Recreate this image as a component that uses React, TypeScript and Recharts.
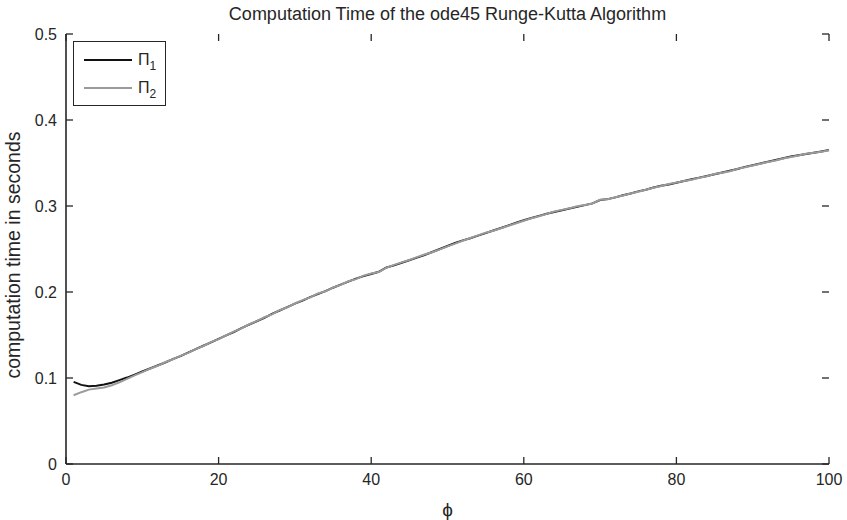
import React from "react";
import { LineChart, Line, XAxis, YAxis, Legend, ReferenceLine } from "recharts";

const phi = [1,2,3,4,5,6,7,8,9,10,11,12,13,14,15,16,17,18,19,20,21,22,23,24,25,26,27,28,29,30,31,32,33,34,35,36,37,38,39,40,41,42,43,44,45,46,47,48,49,50,51,52,53,54,55,56,57,58,59,60,61,62,63,64,65,66,67,68,69,70,71,72,73,74,75,76,77,78,79,80,81,82,83,84,85,86,87,88,89,90,91,92,93,94,95,96,97,98,99,100];

const pi1 = [0.0955,0.0920,0.0905,0.0910,0.0925,0.0945,0.0975,0.1005,0.1040,0.1075,0.1110,0.1145,0.1180,0.1220,0.1255,0.1295,0.1335,0.1375,0.1415,0.1455,0.1495,0.1535,0.1580,0.1620,0.1660,0.1700,0.1745,0.1785,0.1825,0.1865,0.1900,0.1940,0.1975,0.2010,0.2050,0.2085,0.2120,0.2155,0.2185,0.2210,0.2235,0.2285,0.2310,0.2340,0.2370,0.2400,0.2430,0.2465,0.2500,0.2535,0.2570,0.2600,0.2625,0.2655,0.2685,0.2715,0.2745,0.2775,0.2805,0.2835,0.2860,0.2885,0.2910,0.2930,0.2950,0.2970,0.2990,0.3010,0.3030,0.3070,0.3080,0.3100,0.3125,0.3145,0.3170,0.3190,0.3215,0.3235,0.3250,0.3270,0.3290,0.3310,0.3330,0.3350,0.3370,0.3390,0.3410,0.3430,0.3455,0.3475,0.3495,0.3515,0.3535,0.3555,0.3575,0.3590,0.3605,0.3620,0.3635,0.3650];

const pi2 = [0.0800,0.0835,0.0865,0.0878,0.0890,0.0915,0.0950,0.0990,0.1030,0.1068,0.1108,0.1142,0.1183,0.1218,0.1258,0.1292,0.1336,0.1372,0.1418,0.1452,0.1497,0.1540,0.1576,0.1625,0.1662,0.1706,0.1740,0.1788,0.1822,0.1866,0.1905,0.1938,0.1982,0.2008,0.2052,0.2083,0.2125,0.2150,0.2190,0.2215,0.2232,0.2282,0.2316,0.2345,0.2372,0.2406,0.2436,0.2462,0.2495,0.2530,0.2562,0.2596,0.2628,0.2658,0.2690,0.2712,0.2742,0.2770,0.2800,0.2828,0.2858,0.2880,0.2908,0.2935,0.2955,0.2975,0.2996,0.3012,0.3030,0.3072,0.3078,0.3102,0.3122,0.3146,0.3165,0.3188,0.3212,0.3232,0.3255,0.3272,0.3290,0.3305,0.3328,0.3345,0.3372,0.3386,0.3405,0.3432,0.3450,0.3472,0.3492,0.3512,0.3530,0.3552,0.3570,0.3588,0.3608,0.3618,0.3632,0.3648];

const xTicks = [0, 20, 40, 60, 80, 100];
const yTicks = [0, 0.1, 0.2, 0.3, 0.4, 0.5];

const titleText = "Computation Time of the ode45 Runge-Kutta Algorithm";
const xLabel = "\u03D5";
const yLabel = "computation time in seconds";
const seriesNames = ["\u03A0|1", "\u03A0|2"];

const data = phi.map((p, i) => ({ phi: p, s1: pi1[i], s2: pi2[i] }));

const FONT = "'Liberation Sans', Arial, Helvetica, sans-serif";
const AX = "#262626";
const TICK = 7;
const GAP = 9;

const CHART_W = 847;
const CHART_H = 520;
const MARGIN = { top: 34, right: 18, bottom: 26, left: 6 };
const YAXIS_W = 60;
const XAXIS_H = 30;
const PLOT_W = CHART_W - MARGIN.left - YAXIS_W - MARGIN.right;
const PLOT_H = CHART_H - MARGIN.top - MARGIN.bottom - XAXIS_H;

const X_MIN = xTicks[0];
const X_MAX = xTicks[xTicks.length - 1];
const Y_MIN = yTicks[0];
const Y_MAX = yTicks[yTicks.length - 1];
const tickDx = ((X_MAX - X_MIN) * TICK) / PLOT_W;
const tickDy = ((Y_MAX - Y_MIN) * TICK) / PLOT_H;

const BottomTick = (props: any) => {
  const { x, y, payload } = props;
  return (
    <text x={x} y={y} dy={12} textAnchor="middle" fontSize={16} fill={AX} fontFamily={FONT}>
      {String(payload.value)}
    </text>
  );
};

const LeftTick = (props: any) => {
  const { x, y, payload } = props;
  return (
    <text x={x} y={y} dy={5.5} textAnchor="end" fontSize={16} fill={AX} fontFamily={FONT}>
      {String(payload.value)}
    </text>
  );
};

const LegendBox = (props: any) => {
  const items = props.payload || [];
  return (
    <div
      style={{
        border: `1.5px solid ${AX}`,
        background: "#fff",
        width: 93,
        height: 65,
        boxSizing: "border-box",
        position: "relative",
        fontFamily: FONT,
      }}
    >
      {items.map((it: any, i: number) => {
        const [base, sub] = String(it.value).split("|");
        return (
          <div key={i} style={{ position: "absolute", left: 10, top: 9 + i * 28, height: 18, display: "flex", alignItems: "center" }}>
            <svg width={50} height={18} style={{ display: "block" }}>
              <line x1={0} y1={9} x2={48} y2={9} stroke={it.color} strokeWidth={2} />
            </svg>
            <span style={{ fontSize: 16, color: AX, marginLeft: 4, lineHeight: "18px" }}>
              {base}
              <sub style={{ fontSize: 12, verticalAlign: "-5px", lineHeight: 0 }}>{sub}</sub>
            </span>
          </div>
        );
      })}
    </div>
  );
};

const tickStyle = { stroke: AX, strokeWidth: 1.3 };

export default function App() {
  return (
    <div style={{ position: "absolute", left: 0, top: 0, width: CHART_W, height: CHART_H, background: "#fff" }}>
      <LineChart width={CHART_W} height={CHART_H} data={data} margin={MARGIN}>
        <XAxis
          xAxisId="b"
          dataKey="phi"
          type="number"
          domain={[X_MIN, X_MAX]}
          ticks={xTicks}
          orientation="bottom"
          height={XAXIS_H}
          tickSize={0}
          tickMargin={GAP}
          tickLine={false}
          tick={<BottomTick />}
          axisLine={{ stroke: AX, strokeWidth: 1.6 }}
          interval={0}
        />
        <XAxis
          xAxisId="t"
          dataKey="phi"
          type="number"
          domain={[X_MIN, X_MAX]}
          ticks={xTicks}
          orientation="top"
          height={0}
          tickLine={false}
          tick={false}
          axisLine={{ stroke: AX, strokeWidth: 1.6 }}
        />
        <YAxis
          yAxisId="l"
          type="number"
          domain={[Y_MIN, Y_MAX]}
          ticks={yTicks}
          orientation="left"
          width={YAXIS_W}
          tickSize={0}
          tickMargin={GAP}
          tickLine={false}
          tick={<LeftTick />}
          axisLine={{ stroke: AX, strokeWidth: 1.6 }}
          interval={0}
        />
        <YAxis
          yAxisId="r"
          type="number"
          domain={[Y_MIN, Y_MAX]}
          ticks={yTicks}
          orientation="right"
          width={0}
          tickLine={false}
          tick={false}
          axisLine={{ stroke: AX, strokeWidth: 1.6 }}
        />
        {xTicks.map((t) => (
          <ReferenceLine
            key={"xb" + t}
            xAxisId="b"
            yAxisId="l"
            segment={[{ x: t, y: Y_MIN }, { x: t, y: Y_MIN + tickDy }]}
            {...tickStyle}
            ifOverflow="visible"
          />
        ))}
        {xTicks.map((t) => (
          <ReferenceLine
            key={"xt" + t}
            xAxisId="b"
            yAxisId="l"
            segment={[{ x: t, y: Y_MAX }, { x: t, y: Y_MAX - tickDy }]}
            {...tickStyle}
            ifOverflow="visible"
          />
        ))}
        {yTicks.map((t) => (
          <ReferenceLine
            key={"yl" + t}
            xAxisId="b"
            yAxisId="l"
            segment={[{ x: X_MIN, y: t }, { x: X_MIN + tickDx, y: t }]}
            {...tickStyle}
            ifOverflow="visible"
          />
        ))}
        {yTicks.map((t) => (
          <ReferenceLine
            key={"yr" + t}
            xAxisId="b"
            yAxisId="l"
            segment={[{ x: X_MAX, y: t }, { x: X_MAX - tickDx, y: t }]}
            {...tickStyle}
            ifOverflow="visible"
          />
        ))}
        <Legend
          layout="horizontal"
          verticalAlign="middle"
          align="center"
          content={<LegendBox />}
          wrapperStyle={{ left: 73, top: 41, width: 93, height: 65 }}
        />
        <Line
          xAxisId="b"
          yAxisId="l"
          dataKey="s1"
          name={seriesNames[0]}
          stroke="#111111"
          strokeWidth={2}
          dot={false}
          isAnimationActive={false}
        />
        <Line
          xAxisId="b"
          yAxisId="l"
          dataKey="s2"
          name={seriesNames[1]}
          stroke="#9a9a9a"
          strokeWidth={2}
          dot={false}
          isAnimationActive={false}
        />
      </LineChart>
      <div
        style={{
          position: "absolute",
          left: 447.5,
          top: 14,
          transform: "translate(-50%, -50%)",
          whiteSpace: "nowrap",
          fontFamily: FONT,
          fontSize: 18,
          color: AX,
          lineHeight: 1,
        }}
      >
        {titleText}
      </div>
      <div
        style={{
          position: "absolute",
          left: 14,
          top: 255,
          transform: "translate(-50%, -50%) rotate(-90deg)",
          whiteSpace: "nowrap",
          fontFamily: FONT,
          fontSize: 19.5,
          color: AX,
          lineHeight: 1,
        }}
      >
        {yLabel}
      </div>
      <div
        style={{
          position: "absolute",
          left: 447.5,
          top: 509,
          transform: "translate(-50%, -50%)",
          whiteSpace: "nowrap",
          fontFamily: FONT,
          fontSize: 19,
          color: AX,
          lineHeight: 1,
        }}
      >
        {xLabel}
      </div>
    </div>
  );
}
